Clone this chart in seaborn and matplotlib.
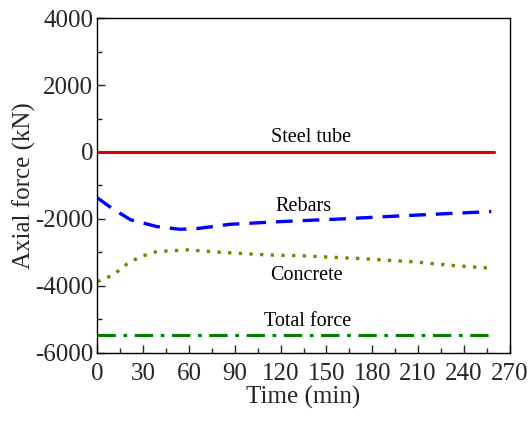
import matplotlib
matplotlib.use("Agg")
import matplotlib.pyplot as plt
import seaborn as sns
from matplotlib.ticker import MultipleLocator

# Axial force histories during fire exposure (kN vs. min)
steel_t = [0, 260]
steel_f = [0, 0]

rebar_t = [0, 10, 22, 39, 54, 65, 87, 120, 160, 198, 230, 258]
rebar_f = [-1370, -1700, -2030, -2230, -2310, -2290, -2160, -2080, -2000, -1910, -1840, -1780]

concrete_t = [0, 5, 10.5, 19.6, 28, 39, 59, 80, 111, 133, 172, 205, 235, 257]
concrete_f = [-3870, -3780, -3670, -3340, -3130, -2975, -2925, -2995, -3075, -3100, -3185, -3275, -3400, -3470]

total_t = [0, 260]
total_f = [-5480, -5480]

labels = ["Steel tube", "Rebars", "Concrete", "Total force"]
label_pos = [(140, 430), (135, -1640), (137, -3680), (138, -5060)]

sns.set_style("ticks")
plt.rcParams["font.family"] = ["Liberation Serif", "DejaVu Serif"]
plt.rcParams["axes.unicode_minus"] = False

fig, ax = plt.subplots(figsize=(5.32, 4.21), dpi=100)
fig.subplots_adjust(left=0.183, right=0.958, top=0.957, bottom=0.162)

sns.lineplot(x=steel_t, y=steel_f, ax=ax, color="#dd0000", lw=2.2)
sns.lineplot(x=rebar_t, y=rebar_f, ax=ax, color="#0000ff", lw=2.4, linestyle=(0, (5, 3)))
sns.lineplot(x=concrete_t, y=concrete_f, ax=ax, color="#808000", lw=2.4, linestyle=(0, (1, 2.2)))
sns.lineplot(x=total_t, y=total_f, ax=ax, color="#008000", lw=2.2, linestyle=(0, (6, 2.5, 1.2, 2.5)))

for text, (x, y) in zip(labels, label_pos):
    ax.text(x, y, text, fontsize=14.5, ha="center", va="center", color="black")

ax.set_xlim(0, 270)
ax.set_ylim(-6000, 4000)
ax.xaxis.set_major_locator(MultipleLocator(30))
ax.xaxis.set_minor_locator(MultipleLocator(15))
ax.yaxis.set_major_locator(MultipleLocator(2000))
ax.yaxis.set_minor_locator(MultipleLocator(1000))
ax.tick_params(which="both", direction="in", top=False, right=False, labelsize=18)
ax.tick_params(axis="x", which="both", pad=7)
ax.tick_params(axis="y", which="both", pad=3)
ax.tick_params(which="major", length=6, width=1)
ax.tick_params(which="minor", length=3.5, width=1)
for s in ax.spines.values():
    s.set_visible(True)
    s.set_linewidth(1.0)
    s.set_color("black")
ax.set_xlabel("Time (min)", fontsize=18, labelpad=1)
ax.set_ylabel("Axial force (kN)", fontsize=18, labelpad=-1)

fig.savefig("out.png", dpi=100)
